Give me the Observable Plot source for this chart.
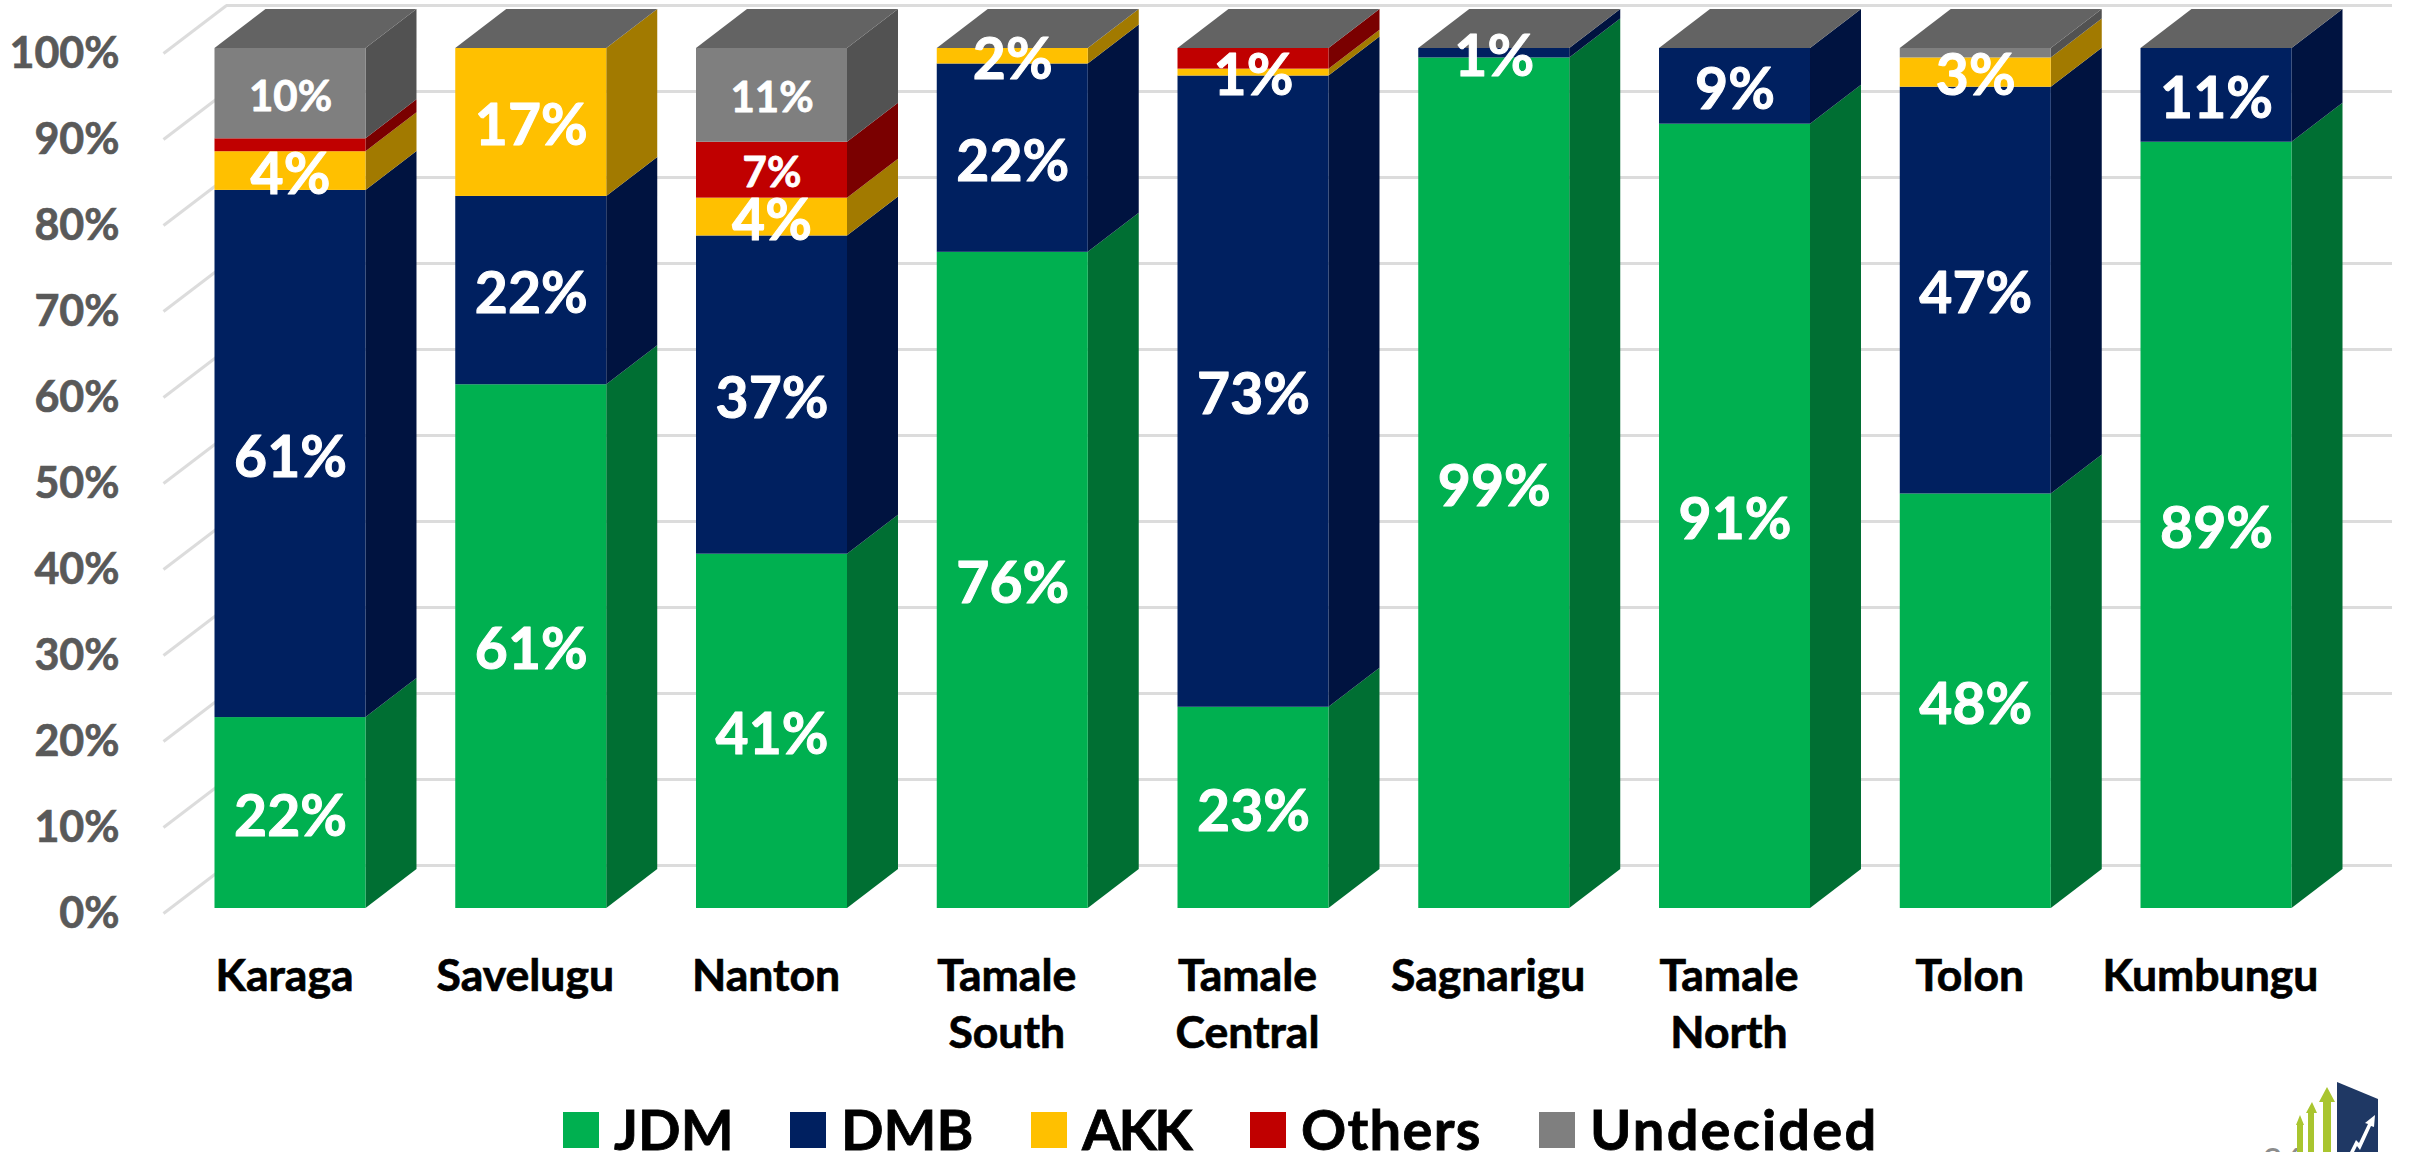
<!DOCTYPE html>
<html><head><meta charset="utf-8">
<script src="https://cdn.jsdelivr.net/npm/d3@7"></script>
<script src="https://cdn.jsdelivr.net/npm/@observablehq/plot@0.6"></script>
<style>
html,body{margin:0;padding:0;background:#fff;overflow:hidden}
#page{position:relative;width:2410px;height:1152px;overflow:hidden;font-family:Lato,sans-serif}
#legend{position:absolute;left:563px;top:1112px;height:40px;display:flex;align-items:flex-start;font-weight:700;font-size:56px;color:#000;white-space:nowrap;-webkit-text-stroke:0.8px #000}
#legend .item{display:flex;align-items:flex-start;flex:none}
#legend .item:nth-child(1){width:227px}
#legend .item:nth-child(2){width:241px}
#legend .item:nth-child(3){width:219px;letter-spacing:-2.5px}
#legend .item:nth-child(4){width:289px;letter-spacing:1.3px}
#legend .item:nth-child(5){width:340px;letter-spacing:2.2px}
#legend .sw{width:36px;height:36px;margin-right:15px;flex:none}
#legend .tx{line-height:36px;height:40px;position:relative;top:-1px}
#pageno{position:absolute;left:2262px;top:1138px;font:400 36px Lato,sans-serif;color:#8c8c8c}
#logo{position:absolute;left:2290px;top:1080px}
g[aria-label="y-axis tick label"] text{stroke:#595959;stroke-width:0.7px}
g[aria-label="x-axis tick label"] text{stroke:#000;stroke-width:0.7px}
</style></head>
<body><div id="page"></div>
<script>
const districts = ["Karaga","Savelugu","Nanton","Tamale\nSouth","Tamale\nCentral","Sagnarigu","Tamale\nNorth","Tolon","Kumbungu"];
const seriesNames = ["JDM","DMB","AKK","Others","Undecided"];
const jdm       = [22.2, 60.9, 41.2, 76.3, 23.4, 98.9, 91.2, 48.2, 89.1];
const dmb       = [61.3, 21.9, 37.0, 21.9, 73.4,  1.1,  8.8, 47.3, 10.9];
const akk       = [ 4.5, 17.2,  4.4,  1.8,  0.8,  0,    0,    3.4,  0];
const others    = [ 1.5,  0,    6.5,  0,    2.4,  0,    0,    0,    0];
const undecided = [10.5,  0,   10.9,  0,    0,    0,    0,    1.1,  0];
const jdmLabels       = ["22%","61%","41%","76%","23%","99%","91%","48%","89%"];
const dmbLabels       = ["61%","22%","37%","22%","73%","1%","9%","47%","11%"];
const akkLabels       = ["4%","17%","4%","2%","1%","","","3%",""];
const othersLabels    = ["","","7%","","","","","",""];
const undecidedLabels = ["10%","","11%","","","","","",""];
const yTicks = [0,10,20,30,40,50,60,70,80,90,100];

const frontColors = ["#00b050","#002060","#ffc000","#c00000","#7f7f7f"];
const sideColors  = ["#006f33","#001340","#a27a00","#7a0000","#525252"];
const topColor = "#636363";
const gridColor = "#dcdcdc";

const values = [jdm,dmb,akk,others,undecided];
const labels = [jdmLabels,dmbLabels,akkLabels,othersLabels,undecidedLabels];

// Depth of the pseudo-3D projection, in chart units
const halfBar = 0.3136, depthX = 0.2118, depthY = 4.53;
const wallX = 0.2617, wallY = 5.58, floorY = -0.58;
const xMin = -0.5275, xMax = 8.731;

const segments = [];
districts.forEach((d,i)=>{
  let base = 0;
  seriesNames.forEach((s,k)=>{
    const v = values[k][i];
    if (v > 0) segments.push({i, s, k, y1: base, y2: base+v, label: labels[k][i], key: s+i});
    base += v;
  });
});
const sideRows = segments.flatMap(g=>[
  {k:g.k, key:g.key, x:g.i+halfBar,        y1:g.y1,        y2:g.y2},
  {k:g.k, key:g.key, x:g.i+halfBar+depthX, y1:g.y1+depthY, y2:g.y2+depthY}
]);
const topRows = districts.flatMap((d,i)=>[
  {i, y:100,        x1:i-halfBar,        x2:i+halfBar},
  {i, y:100+depthY, x1:i-halfBar+depthX, x2:i+halfBar+depthX}
]);

const chart = Plot.plot({
  width: 2410, height: 1104,
  marginTop: 48, marginBottom: 196, marginLeft: 163, marginRight: 18,
  style: {fontFamily:"Lato, sans-serif", background:"#fff", overflow:"visible"},
  x: {domain:[xMin,xMax]},
  y: {domain:[0,100]},
  color: {domain:seriesNames, range:frontColors},
  marks: [
    Plot.ruleY(yTicks, {y:d=>d+floorY+wallY, x1:xMin+wallX, x2:xMax, stroke:gridColor, strokeWidth:3}),
    Plot.link(yTicks, {x1:xMin, y1:d=>d+floorY, x2:xMin+wallX, y2:d=>d+floorY+wallY, stroke:gridColor, strokeWidth:3}),
    ...seriesNames.map((s,k)=>Plot.areaY(sideRows.filter(r=>r.k===k), {x:"x", y1:"y1", y2:"y2", z:"key", fill:sideColors[k]})),
    Plot.areaX(topRows, {y:"y", x1:"x1", x2:"x2", z:"i", fill:topColor}),
    Plot.rect(segments, {x1:d=>d.i-halfBar, x2:d=>d.i+halfBar, y1:"y1", y2:"y2", fill:"s"}),
    Plot.axisY({ticks:yTicks, tickFormat:d=>d+"%", tickSize:0, tickPadding:44, dy:6, label:null,
                fontSize:43, fontWeight:700, fill:"#595959"}),
    Plot.axisX({ticks:d3.range(districts.length), tickFormat:i=>districts[i], tickSize:0, tickPadding:41, dx:-6, label:null,
                fontSize:44.5, fontWeight:700, fill:"#000", lineHeight:1.3}),
    Plot.text(segments.filter(g=>g.label && g.k<3), {x:"i", y:d=>(d.y1+d.y2)/2, text:"label", fill:"#fff", stroke:"#fff", strokeWidth:1, fontSize:57, fontWeight:700, dy:4.5}),
    Plot.text(segments.filter(g=>g.label && g.k>=3), {x:"i", y:d=>(d.y1+d.y2)/2, text:"label", fill:"#fff", stroke:"#fff", strokeWidth:0.8, fontSize:42, fontWeight:700, dy:3.5})
  ]
});

const page = document.getElementById("page");
page.appendChild(chart);

const legend = document.createElement("div");
legend.id = "legend";
seriesNames.forEach((s,k)=>{
  const it = document.createElement("div");
  it.className = "item";
  const sw = document.createElement("div");
  sw.className = "sw"; sw.style.background = frontColors[k];
  const tx = document.createElement("div");
  tx.className = "tx"; tx.textContent = s;
  it.append(sw,tx);
  legend.appendChild(it);
});
page.appendChild(legend);

const no = document.createElement("div");
no.id = "pageno"; no.textContent = "36";
page.appendChild(no);

const ns = "http://www.w3.org/2000/svg";
const logo = document.createElementNS(ns,"svg");
logo.id = "logo"; logo.setAttribute("width","100"); logo.setAttribute("height","72");
logo.innerHTML = `
<g fill="#a9c52f">
<path d="M7 72V45H6L10 35L14 45H13V72Z"/>
<path d="M18 72V33H16L22 22L27 33H24V72Z"/>
<path d="M33 72V22H29L37 7L45 22H41V72Z"/>
</g>
<path d="M47 2L88 19V72H47Z" fill="#1f3864"/>
<path d="M60 72L66 60L69 63L78 44L75 43L85 35L84 47L81 46L70 70L67 66L64 72Z" fill="#fff"/>`;
page.appendChild(logo);
</script></body></html>
